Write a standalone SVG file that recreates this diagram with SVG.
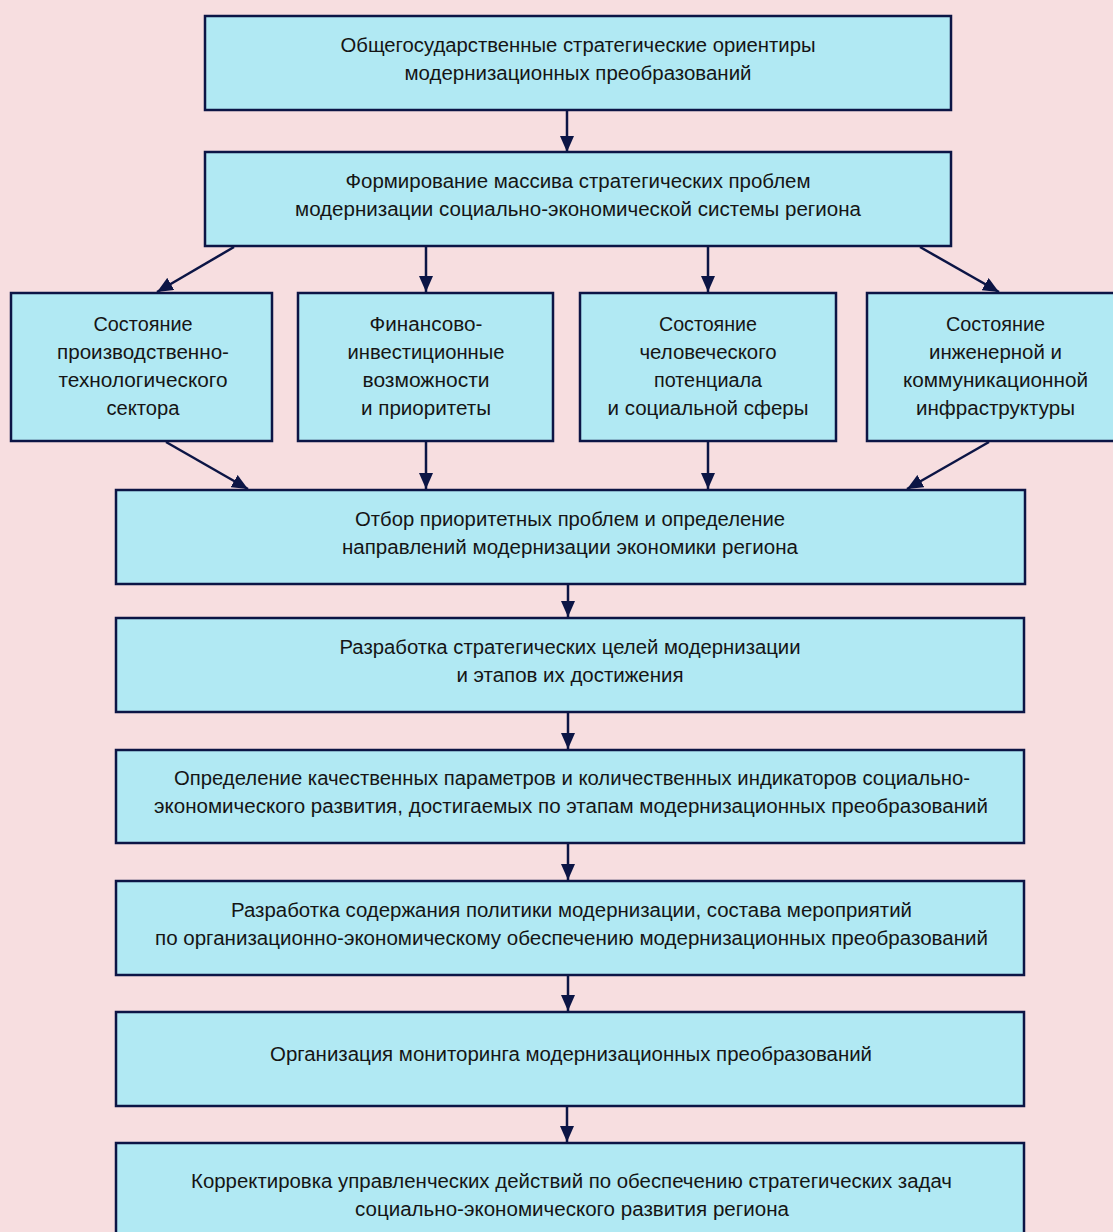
<svg xmlns="http://www.w3.org/2000/svg" width="1113" height="1232" viewBox="0 0 1113 1232">
<style>
.bg{fill:#f7dee0}
.box{fill:#b1e9f3;stroke:#0c1545;stroke-width:2.5}
.t{font-family:"Liberation Sans",Arial,sans-serif;font-size:20px;fill:#151515;text-anchor:middle}
.c{stroke:#0c1545;stroke-width:2.5;fill:none;marker-end:url(#ah)}
</style>
<defs>
<marker id="ah" markerUnits="userSpaceOnUse" markerWidth="16" markerHeight="14" refX="16" refY="7" orient="auto">
<path d="M0,0 L16,7 L0,14 z" fill="#0c1545"/>
</marker>
</defs>
<rect class="bg" x="0" y="0" width="1113" height="1232"/>
<g id="connectors">
<line class="c" x1="567" y1="111" x2="567" y2="152"/>
<line class="c" x1="234" y1="247" x2="157" y2="292"/>
<line class="c" x1="426" y1="247" x2="426" y2="292"/>
<line class="c" x1="708" y1="247" x2="708" y2="292"/>
<line class="c" x1="920" y1="247" x2="999" y2="292"/>
<line class="c" x1="166" y1="442" x2="248" y2="489"/>
<line class="c" x1="426" y1="442" x2="426" y2="489"/>
<line class="c" x1="708" y1="442" x2="708" y2="489"/>
<line class="c" x1="989" y1="442" x2="907" y2="489"/>
<line class="c" x1="568" y1="585" x2="568" y2="617"/>
<line class="c" x1="568" y1="713" x2="568" y2="749"/>
<line class="c" x1="568" y1="844" x2="568" y2="880"/>
<line class="c" x1="568" y1="976" x2="568" y2="1011"/>
<line class="c" x1="567" y1="1107" x2="567" y2="1142"/>
</g>
<g id="n1">
<rect class="box" x="205" y="16" width="746" height="94"/>
<text class="t" x="578" y="52" textLength="475" lengthAdjust="spacingAndGlyphs">Общегосударственные стратегические ориентиры</text>
<text class="t" x="578" y="80" textLength="347" lengthAdjust="spacingAndGlyphs">модернизационных преобразований</text>
</g>
<g id="n2">
<rect class="box" x="205" y="152" width="746" height="94"/>
<text class="t" x="578" y="188" textLength="465" lengthAdjust="spacingAndGlyphs">Формирование массива стратегических проблем</text>
<text class="t" x="578" y="216" textLength="566" lengthAdjust="spacingAndGlyphs">модернизации социально-экономической системы региона</text>
</g>
<g id="n3a">
<rect class="box" x="11" y="293" width="261" height="148"/>
<text class="t" x="143" y="331" textLength="99" lengthAdjust="spacingAndGlyphs">Состояние</text>
<text class="t" x="143" y="359" textLength="172" lengthAdjust="spacingAndGlyphs">производственно-</text>
<text class="t" x="143" y="387" textLength="169" lengthAdjust="spacingAndGlyphs">технологического</text>
<text class="t" x="143" y="415" textLength="73" lengthAdjust="spacingAndGlyphs">сектора</text>
</g>
<g id="n3b">
<rect class="box" x="298" y="293" width="255" height="148"/>
<text class="t" x="426" y="331" textLength="113" lengthAdjust="spacingAndGlyphs">Финансово-</text>
<text class="t" x="426" y="359" textLength="157" lengthAdjust="spacingAndGlyphs">инвестиционные</text>
<text class="t" x="426" y="387" textLength="127" lengthAdjust="spacingAndGlyphs">возможности</text>
<text class="t" x="426" y="415" textLength="130" lengthAdjust="spacingAndGlyphs">и приоритеты</text>
</g>
<g id="n3c">
<rect class="box" x="580" y="293" width="256" height="148"/>
<text class="t" x="708" y="331" textLength="98" lengthAdjust="spacingAndGlyphs">Состояние</text>
<text class="t" x="708" y="359" textLength="137" lengthAdjust="spacingAndGlyphs">человеческого</text>
<text class="t" x="708" y="387" textLength="108" lengthAdjust="spacingAndGlyphs">потенциала</text>
<text class="t" x="708" y="415" textLength="201" lengthAdjust="spacingAndGlyphs">и социальной сферы</text>
</g>
<g id="n3d">
<rect class="box" x="867" y="293" width="260" height="148"/>
<text class="t" x="995.5" y="331" textLength="99" lengthAdjust="spacingAndGlyphs">Состояние</text>
<text class="t" x="995.5" y="359" textLength="133" lengthAdjust="spacingAndGlyphs">инженерной и</text>
<text class="t" x="995.5" y="387" textLength="185" lengthAdjust="spacingAndGlyphs">коммуникационной</text>
<text class="t" x="995.5" y="415" textLength="159" lengthAdjust="spacingAndGlyphs">инфраструктуры</text>
</g>
<g id="n4">
<rect class="box" x="116" y="490" width="909" height="94"/>
<text class="t" x="570" y="526" textLength="430" lengthAdjust="spacingAndGlyphs">Отбор приоритетных проблем и определение</text>
<text class="t" x="570" y="554" textLength="456" lengthAdjust="spacingAndGlyphs">направлений модернизации экономики региона</text>
</g>
<g id="n5">
<rect class="box" x="116" y="618" width="908" height="94"/>
<text class="t" x="570" y="654" textLength="461" lengthAdjust="spacingAndGlyphs">Разработка стратегических целей модернизации</text>
<text class="t" x="570" y="682" textLength="227" lengthAdjust="spacingAndGlyphs">и этапов их достижения</text>
</g>
<g id="n6">
<rect class="box" x="116" y="750" width="908" height="93"/>
<text class="t" x="572" y="785" textLength="796" lengthAdjust="spacingAndGlyphs">Определение качественных параметров и количественных индикаторов социально-</text>
<text class="t" x="571" y="813" textLength="834" lengthAdjust="spacingAndGlyphs">экономического развития, достигаемых по этапам модернизационных преобразований</text>
</g>
<g id="n7">
<rect class="box" x="116" y="881" width="908" height="94"/>
<text class="t" x="571.5" y="917" textLength="681" lengthAdjust="spacingAndGlyphs">Разработка содержания политики модернизации, состава мероприятий</text>
<text class="t" x="571.5" y="945" textLength="833" lengthAdjust="spacingAndGlyphs">по организационно-экономическому обеспечению модернизационных преобразований</text>
</g>
<g id="n8">
<rect class="box" x="116" y="1012" width="908" height="94"/>
<text class="t" x="571" y="1061" textLength="602" lengthAdjust="spacingAndGlyphs">Организация мониторинга модернизационных преобразований</text>
</g>
<g id="n9">
<rect class="box" x="116" y="1143" width="908" height="100"/>
<text class="t" x="571.5" y="1188" textLength="761" lengthAdjust="spacingAndGlyphs">Корректировка управленческих действий по обеспечению стратегических задач</text>
<text class="t" x="572" y="1216" textLength="434" lengthAdjust="spacingAndGlyphs">социально-экономического развития региона</text>
</g>
</svg>
